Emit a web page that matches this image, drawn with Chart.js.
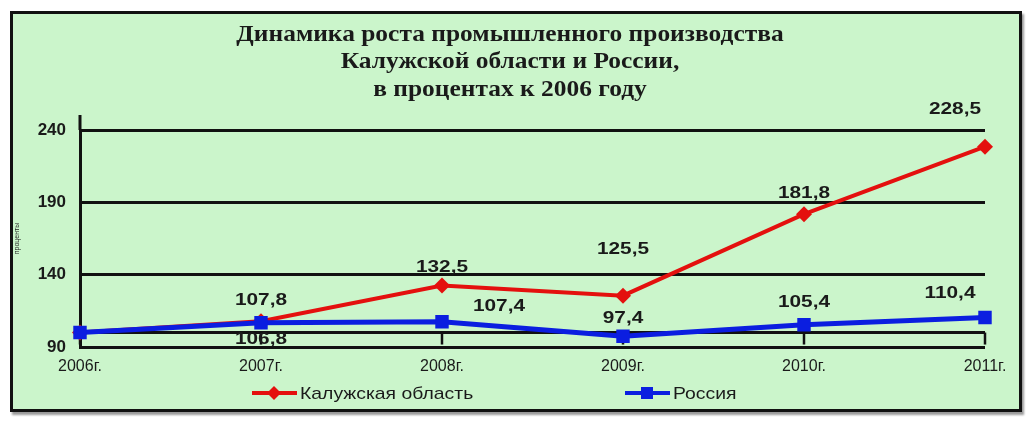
<!DOCTYPE html>
<html>
<head>
<meta charset="utf-8">
<script src="https://cdn.jsdelivr.net/npm/chart.js@4.4.1/dist/chart.umd.min.js"></script>
<style>
  html, body { margin:0; padding:0; background:#fff; }
  #panel {
    position:absolute; left:10px; top:11px; width:1006px; height:395px;
    background:#cbf5cb; border:3px solid #111;
    box-shadow: 2px 3px 2px #9a9a9a;
  }
  #panel canvas { display:block; }
</style>
</head>
<body>
<div id="panel"><canvas id="chart" width="1006" height="395"></canvas></div>
<script>
// ── данные ────────────────────────────────────────────────────────────
const YEARS   = ['2006г.', '2007г.', '2008г.', '2009г.', '2010г.', '2011г.'];
const KALUGA  = [100, 107.8, 132.5, 125.5, 181.8, 228.5];
const RUSSIA  = [100, 106.8, 107.4, 97.4, 105.4, 110.4];
const Y_TICKS = [90, 140, 190, 240];
const TITLE   = [
  'Динамика роста промышленного производства',
  'Калужской области и России,',
  'в процентах к 2006 году',
];

const C = {
  red:  '#e4100e',
  blue: '#0b1ee0',
  ink:  '#1a1a1a',
  grid: '#111111',
};

// смещения подписей значений (dx, dy) относительно точки; null — без подписи
const LABEL_POS = {
  0: [null, [0, -21], [0, -18], [0, -46], [0, -21], [-30, -37]],
  1: [null, [0, 17], [57, -15], [0, -18], [0, -22], [-35, -24]],
};

const fmt = v => String(v).replace('.', ',');

// растянутый по горизонтали текст (как в исходной картинке)
function wideText(ctx, text, x, y, sx) {
  ctx.save();
  ctx.translate(x, y);
  ctx.scale(sx, 1);
  ctx.fillText(text, 0, 0);
  ctx.restore();
}

// ── плагины ───────────────────────────────────────────────────────────
const decor = {
  id: 'decor',
  beforeDatasetsDraw(chart) {
    const { ctx, chartArea: a, scales: { x, y } } = chart;
    ctx.save();
    ctx.strokeStyle = C.grid;
    ctx.lineWidth = 3;
    // продолжение оси Y над верхней линией
    ctx.beginPath();
    ctx.moveTo(a.left, a.top - 15);
    ctx.lineTo(a.left, a.top);
    ctx.stroke();
    // ось X пересекает ось Y на уровне 100
    const y100 = y.getPixelForValue(100);
    ctx.beginPath();
    ctx.moveTo(a.left, y100);
    ctx.lineTo(a.right, y100);
    ctx.stroke();
    ctx.lineWidth = 2.5;
    x.ticks.forEach((t, i) => {
      const px = x.getPixelForTick(i);
      ctx.beginPath();
      ctx.moveTo(px, y100);
      ctx.lineTo(px, y100 + 12);
      ctx.stroke();
    });
    ctx.restore();
  },
  afterDraw(chart) {
    const { ctx } = chart;
    ctx.save();
    // заголовок
    ctx.fillStyle = C.ink;
    ctx.textAlign = 'center';
    ctx.textBaseline = 'middle';
    ctx.font = 'bold 24px "Liberation Serif", "Times New Roman", serif';
    const tY = [21, 48, 76];
    TITLE.forEach((line, i) => wideText(ctx, line, 497, tY[i], 1.06));

    // подписи значений
    ctx.font = 'bold 16px "Liberation Sans", Arial, sans-serif';
    chart.data.datasets.forEach((ds, di) => {
      const meta = chart.getDatasetMeta(di);
      meta.data.forEach((pt, i) => {
        const off = LABEL_POS[di][i];
        if (!off) return;
        wideText(ctx, fmt(ds.data[i]), pt.x + off[0], pt.y + off[1], 1.3);
      });
    });

    // легенда
    ctx.font = '17px "Liberation Sans", Arial, sans-serif';
    ctx.textAlign = 'left';
    const legX = [239, 612];
    const legY = 379;
    chart.data.datasets.forEach((ds, di) => {
      const x0 = legX[di];
      ctx.strokeStyle = ds.borderColor;
      ctx.lineWidth = 4;
      ctx.beginPath();
      ctx.moveTo(x0, legY);
      ctx.lineTo(x0 + 45, legY);
      ctx.stroke();
      ctx.fillStyle = ds.borderColor;
      const cx = x0 + 22;
      ctx.beginPath();
      if (ds.pointStyle === 'rectRot') {
        ctx.moveTo(cx, legY - 7); ctx.lineTo(cx + 7, legY);
        ctx.lineTo(cx, legY + 7); ctx.lineTo(cx - 7, legY);
        ctx.closePath();
      } else {
        ctx.rect(cx - 6, legY - 6, 12, 12);
      }
      ctx.fill();
      ctx.fillStyle = C.ink;
      wideText(ctx, ds.label, x0 + 48, legY + 1, 1.14);
    });
    ctx.restore();
  },
};

// ── график ────────────────────────────────────────────────────────────
new Chart(document.getElementById('chart'), {
  type: 'line',
  data: {
    labels: YEARS,
    datasets: [
      {
        label: 'Калужская область', data: KALUGA,
        borderColor: C.red, backgroundColor: C.red, borderWidth: 4,
        pointStyle: 'rectRot', pointRadius: 8, pointBorderWidth: 0,
        tension: 0, order: 1,
      },
      {
        label: 'Россия', data: RUSSIA,
        borderColor: C.blue, backgroundColor: C.blue, borderWidth: 5,
        pointStyle: 'rect', pointRadius: 9.5, pointBorderWidth: 0,
        tension: 0, order: 0,
      },
    ],
  },
  options: {
    responsive: false, animation: false,
    layout: { padding: { top: 116, right: 34, bottom: 0, left: 0 } },
    plugins: { legend: { display: false }, tooltip: { enabled: false }, title: { display: false } },
    scales: {
      x: {
        offset: false,
        grid: { display: false, drawTicks: false },
        border: { display: false },
        ticks: { padding: 10, color: C.ink, font: { size: 16, family: '"Liberation Sans", Arial, sans-serif' } },
        afterFit: s => { s.height = 62; },
      },
      y: {
        min: 90, max: 240,
        afterBuildTicks: s => { s.ticks = Y_TICKS.map(v => ({ value: v })); },
        grid: { color: C.grid, lineWidth: 3, drawTicks: false },
        border: { display: true, color: C.grid, width: 3 },
        ticks: { padding: 14, color: C.ink, font: { size: 17, weight: 'bold', family: '"Liberation Sans", Arial, sans-serif' } },
        title: { display: true, text: 'проценты', color: C.ink, font: { size: 7, family: '"Liberation Sans", Arial, sans-serif' }, padding: 0 },
        afterFit: s => { s.width = 67; },
      },
    },
  },
  plugins: [decor],
});
</script>
</body>
</html>
